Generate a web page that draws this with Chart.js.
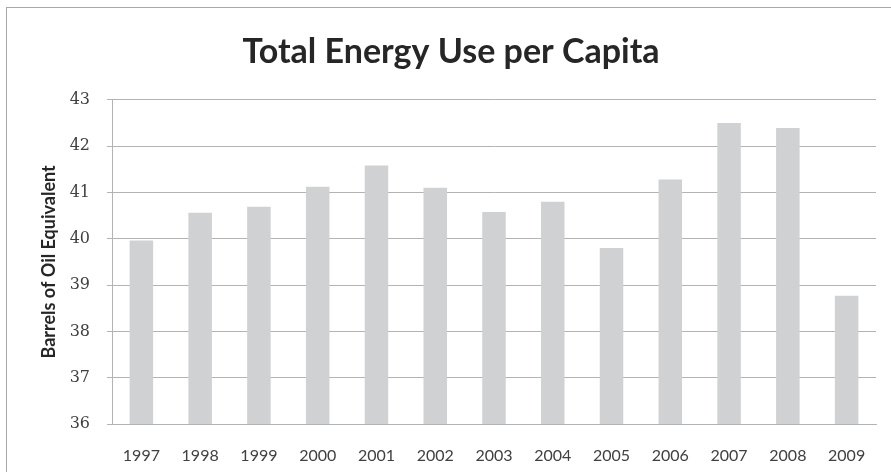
<!DOCTYPE html>
<html>
<head>
<meta charset="utf-8">
<script src="https://cdn.jsdelivr.net/npm/chart.js@4/dist/chart.umd.min.js"></script>
<style>
    html, body { margin: 0; padding: 0; background: #fff; }
    #wrap { position: relative; width: 891px; height: 472px; overflow: hidden; }
    #frame { position: absolute; left: 6px; top: 7px; width: 920px; height: 500px; border: 1px solid #a8a8a8; pointer-events: none; }
    canvas { position: absolute; left: 0; top: 0; }
</style>
</head>
<body>
<div id="wrap">
    <canvas id="chart-energy" width="891" height="472"></canvas>
    <div id="frame"></div>
</div>
<script>
const years = ['1997', '1998', '1999', '2000', '2001', '2002', '2003', '2004', '2005', '2006', '2007', '2008', '2009'];
const barrelsPerCapita = [39.96, 40.56, 40.69, 41.12, 41.58, 41.10, 40.58, 40.80, 39.80, 41.28, 42.50, 42.39, 38.77];
const yMin = 36;
const yMax = 43;

const colors = {
    bar: '#d0d1d3',
    grid: '#b3b3b3',
    text: '#262626',
    tick: '#404040'
};

function initChart() {
    new Chart(document.getElementById('chart-energy'), {
        type: 'bar',
        data: {
            labels: years,
            datasets: [
                { label: 'Barrels of Oil Equivalent', data: barrelsPerCapita, backgroundColor: colors.bar, barPercentage: 0.4, categoryPercentage: 1.0 }
            ]
        },
        options: {
            responsive: false,
            animation: false,
            layout: { padding: { left: 26, right: 15, top: 0, bottom: 0 } },
            plugins: {
                legend: { display: false },
                tooltip: { enabled: false },
                title: {
                    display: true,
                    text: 'Total Energy Use per Capita',
                    color: colors.text,
                    font: { family: 'Lato', size: 34, weight: 'bold' },
                    padding: { top: 32, bottom: 27 }
                }
            },
            scales: {
                x: {
                    grid: { display: false },
                    border: { display: true, color: colors.grid, width: 1 },
                    ticks: { color: colors.tick, font: { family: 'Lato', size: 16 }, padding: 14, maxRotation: 0 },
                    afterFit: (scale) => { scale.height = 48; }
                },
                y: {
                    min: yMin,
                    max: yMax,
                    ticks: { stepSize: 1, color: colors.tick, font: { family: 'DejaVu Serif', size: 16 }, padding: 17 },
                    grid: { color: colors.grid, lineWidth: 1, tickLength: 5 },
                    border: { display: true, color: colors.grid, width: 1 },
                    title: {
                        display: true,
                        text: 'Barrels of Oil Equivalent',
                        color: colors.text,
                        font: { family: 'Lato', size: 18, weight: 'bold' },
                        padding: { top: 12, bottom: 0 }
                    },
                    afterFit: (scale) => { scale.width = 86; }
                }
            }
        }
    });
}

document.addEventListener('DOMContentLoaded', initChart);
</script>
</body>
</html>
